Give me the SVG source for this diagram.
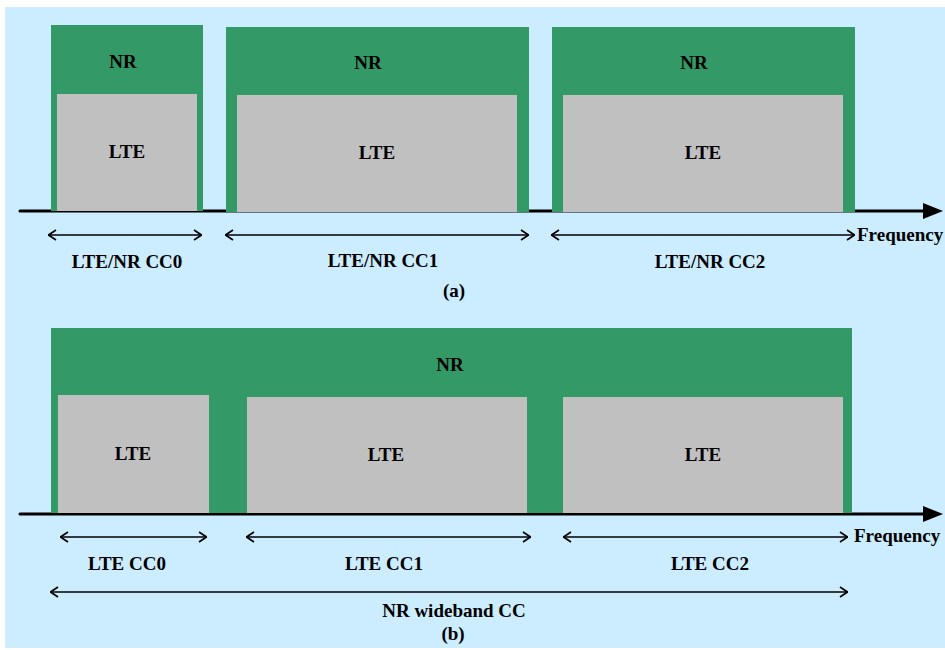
<svg xmlns="http://www.w3.org/2000/svg" width="945" height="650" viewBox="0 0 945 650">
<defs>
<style>
.bg{fill:#CCECFF}
.nr{fill:#339966}
.lte{fill:#C0C0C0}
.t{font-family:"Liberation Serif","Times New Roman",serif;font-weight:bold;font-size:19px;fill:#000;text-anchor:middle}
.tl{font-family:"Liberation Serif","Times New Roman",serif;font-weight:bold;font-size:19px;fill:#000;text-anchor:start}
.axis{stroke:#000;stroke-width:3;fill:none;stroke-linecap:round}
.dim{stroke:#000;stroke-width:1.5;fill:none;marker-start:url(#open);marker-end:url(#open)}
</style>
<marker id="open" viewBox="0 0 10 12" refX="10" refY="6" markerWidth="10" markerHeight="12" markerUnits="userSpaceOnUse" orient="auto-start-reverse">
<path d="M2,1 L9.5,6 L2,11" fill="none" stroke="#000" stroke-width="1.6"/>
</marker>
<marker id="solid" viewBox="0 0 20 16" refX="20" refY="8" markerWidth="20" markerHeight="16" markerUnits="userSpaceOnUse" orient="auto">
<path d="M0,0 L20,8 L0,16 Z" fill="#000"/>
</marker>
</defs>
<rect class="bg" x="5" y="7" width="940" height="641"/>

<g id="connectors">
<line class="axis" x1="20" y1="211" x2="925" y2="211"/>
<path d="M923,203 L943,211 L923,219 Z" fill="#000"/>
<line class="axis" x1="20" y1="514" x2="925" y2="514"/>
<path d="M923,506 L943,514 L923,522 Z" fill="#000"/>
</g>

<g id="a-cc0">
<rect class="nr" x="51" y="25" width="152" height="186"/>
<rect class="lte" x="57" y="94" width="140" height="117"/>
<text class="t" x="123" y="68">NR</text>
<text class="t" x="127" y="158">LTE</text>
</g>
<g id="a-cc1">
<rect class="nr" x="226" y="27" width="303" height="185"/>
<rect class="lte" x="237" y="95" width="280" height="117"/>
<text class="t" x="368" y="69">NR</text>
<text class="t" x="377" y="159">LTE</text>
</g>
<g id="a-cc2">
<rect class="nr" x="552" y="27" width="303" height="185"/>
<rect class="lte" x="563" y="95" width="280" height="117"/>
<text class="t" x="694" y="69">NR</text>
<text class="t" x="703" y="159">LTE</text>
</g>

<g id="a-dims">
<line class="dim" x1="48" y1="235" x2="202" y2="235"/>
<line class="dim" x1="225" y1="235" x2="529" y2="235"/>
<line class="dim" x1="551" y1="235" x2="855" y2="235"/>
<text class="tl" x="857" y="241">Frequency</text>
<text class="t" x="127" y="268">LTE/NR CC0</text>
<text class="t" x="383" y="267">LTE/NR CC1</text>
<text class="t" x="710" y="268">LTE/NR CC2</text>
<text class="t" x="454" y="297">(a)</text>
</g>

<g id="b-nr">
<rect class="nr" x="51" y="328" width="801" height="185"/>
<text class="t" x="450" y="371">NR</text>
</g>
<g id="b-lte0">
<rect class="lte" x="58" y="395" width="151" height="118"/>
<text class="t" x="133" y="460">LTE</text>
</g>
<g id="b-lte1">
<rect class="lte" x="247" y="397" width="280" height="116"/>
<text class="t" x="386" y="461">LTE</text>
</g>
<g id="b-lte2">
<rect class="lte" x="563" y="397" width="280" height="116"/>
<text class="t" x="703" y="461">LTE</text>
</g>

<g id="b-dims">
<line class="dim" x1="60" y1="537" x2="207" y2="537"/>
<line class="dim" x1="246" y1="537" x2="531" y2="537"/>
<line class="dim" x1="563" y1="537" x2="848" y2="537"/>
<line class="dim" x1="50" y1="592" x2="848" y2="592"/>
<text class="tl" x="854" y="542">Frequency</text>
<text class="t" x="127" y="570">LTE CC0</text>
<text class="t" x="384" y="570">LTE CC1</text>
<text class="t" x="710" y="570">LTE CC2</text>
<text class="t" x="454" y="617">NR wideband CC</text>
<text class="t" x="453" y="640">(b)</text>
</g>
</svg>
